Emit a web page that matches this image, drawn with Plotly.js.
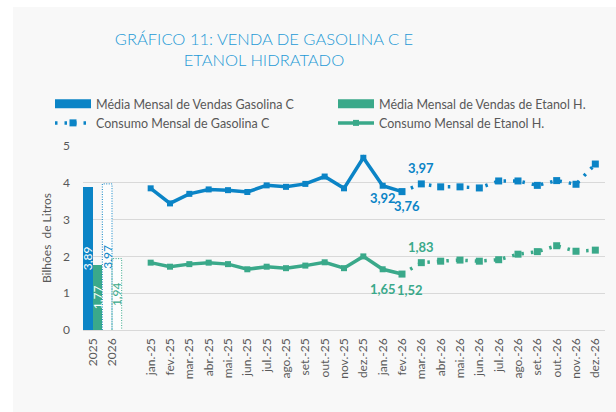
<!DOCTYPE html>
<html>
<head>
<meta charset="utf-8">
<script src="https://cdn.plot.ly/plotly-3.0.1.min.js"></script>
<style>
  html, body { margin: 0; padding: 0; background: #ffffff; width: 616px; height: 412px; overflow: hidden; }
  #chart { position: absolute; left: 13px; top: 7px; width: 603px; height: 405px; }
</style>
</head>
<body>
<div id="chart"></div>
<script>
// ---- data ----
const annualLabels = ['2025', '2026'];
const annualGasolina = [3.89, 3.97];
const annualEtanol = [1.77, 1.94];

const months = ['jan.-25','fev.-25','mar.-25','abr.-25','mai.-25','jun.-25','jul.-25','ago.-25','set.-25','out.-25','nov.-25','dez.-25',
                'jan.-26','fev.-26','mar.-26','abr.-26','mai.-26','jun.-26','jul.-26','ago.-26','set.-26','out.-26','nov.-26','dez.-26'];
const gasolina = [3.85, 3.44, 3.70, 3.82, 3.80, 3.75, 3.93, 3.89, 3.97, 4.17, 3.85, 4.68,
                  3.92, 3.76, 3.97, 3.89, 3.89, 3.86, 4.05, 4.05, 3.93, 4.06, 3.96, 4.51];
const etanol =   [1.83, 1.72, 1.79, 1.83, 1.79, 1.65, 1.72, 1.68, 1.75, 1.84, 1.68, 2.00,
                  1.65, 1.52, 1.83, 1.87, 1.90, 1.87, 1.91, 2.06, 2.13, 2.29, 2.14, 2.17];
const lastRealMonth = 'fev.-26';

// labelled points: [month, shiftX, shiftY]
const gasLabels = [['jan.-26', 0, -12], ['fev.-26', 5, -14], ['mar.-26', 0, 16]];
const etaLabels = [['jan.-26', 0, -20], ['fev.-26', 8, -16], ['mar.-26', 0, 16]];

// ---- styling ----
const BLUE = '#0B84C6';
const GREEN = '#3AA98A';
const GREY = '#595959';
const FONT = 'Lato, "Open Sans", sans-serif';

// positions on a numeric axis: 2 annual categories, a blank slot, then months
const annualX = annualLabels.map((_, i) => i);
const monthX = months.map((_, i) => i + annualLabels.length + 1);
const split = months.indexOf(lastRealMonth);
const fmt = v => v.toFixed(2).replace('.', ',');

const traces = [];

// annual bars (2025 solid, 2026 projected = light fill with dotted outline)
traces.push({
  type: 'bar', x: annualX, y: annualGasolina, name: 'Média Mensal de Vendas Gasolina C',
  marker: { color: [BLUE, 'rgba(255,255,255,0.7)'] },
  text: annualGasolina.map(fmt), textposition: 'inside', insidetextanchor: 'middle', textangle: -90,
  constraintext: 'none',
  textfont: { family: FONT, size: 12, color: ['#ffffff', BLUE] },
  showlegend: false, hoverinfo: 'x+y', cliponaxis: false
});
traces.push({
  type: 'bar', x: annualX, y: annualEtanol, name: 'Média Mensal de Vendas de Etanol H.',
  marker: { color: [GREEN, 'rgba(255,255,255,0.7)'] },
  text: annualEtanol.map(fmt), textposition: 'inside', insidetextanchor: 'middle', textangle: -90,
  constraintext: 'none',
  textfont: { family: FONT, size: 12, color: ['#ffffff', GREEN] },
  showlegend: false, hoverinfo: 'x+y', cliponaxis: false
});

// dotted outlines of the projected (2026) bars, built from the bar values
function outline(xc, v, color) {
  return { type: 'scatter', mode: 'lines', x: [xc - 0.25, xc - 0.25, xc + 0.25, xc + 0.25], y: [0, v, v, 0],
           line: { color: color, width: 1, dash: '1px,1.5px' }, showlegend: false, hoverinfo: 'skip' };
}
traces.push(outline(annualX[1] - 0.25, annualGasolina[1], BLUE));
traces.push(outline(annualX[1] + 0.25, annualEtanol[1], GREEN));

// legend swatches for the bars (wide rectangles)
traces.push({ type: 'scatter', mode: 'lines', x: [null], y: [null], name: 'Média Mensal de Vendas Gasolina C',
  line: { color: BLUE, width: 9 }, legendrank: 1, hoverinfo: 'skip' });
traces.push({ type: 'scatter', mode: 'lines', x: [null], y: [null], name: 'Média Mensal de Vendas de Etanol H.',
  line: { color: GREEN, width: 9 }, legendrank: 2, hoverinfo: 'skip' });

// monthly lines: realised (solid) and projected (dotted)
function series(values, color, name, legendOnDotted, rankBase) {
  traces.push({
    type: 'scatter', mode: 'lines+markers', x: monthX.slice(0, split + 1), y: values.slice(0, split + 1),
    name: name, line: { color: color, width: 3.5 }, marker: { symbol: 'square', size: 6, color: color },
    showlegend: !legendOnDotted, legendrank: rankBase, text: months.slice(0, split + 1), hoverinfo: 'text+y'
  });
  traces.push({
    type: 'scatter', mode: 'lines+markers', x: monthX.slice(split), y: values.slice(split),
    name: name, line: { color: color, width: 3.5, dash: '2.5px,7px' }, marker: { symbol: 'square', size: 7, color: color },
    showlegend: legendOnDotted, legendrank: rankBase, text: months.slice(split), hoverinfo: 'text+y'
  });
}
series(gasolina, BLUE, 'Consumo Mensal de Gasolina C', true, 3);
series(etanol, GREEN, 'Consumo Mensal de Etanol H.', false, 4);

// data labels on the lines
const annotations = [];
function addLabels(list, values, color) {
  list.forEach(([m, dx, dy]) => {
    const i = months.indexOf(m);
    annotations.push({ x: monthX[i], y: values[i], text: fmt(values[i]), showarrow: false,
      xshift: dx, yshift: dy, font: { family: FONT, size: 13, color: color, weight: 'bold' } });
  });
}
addLabels(gasLabels, gasolina, BLUE);
addLabels(etaLabels, etanol, GREEN);

const layout = {
  width: 603, height: 405,
  paper_bgcolor: '#f8f8f8', plot_bgcolor: '#f8f8f8',
  margin: { l: 70, r: 11, t: 139, b: 82 },
  separators: ',.',
  font: { family: FONT, color: GREY },
  title: {
    text: 'GRÁFICO 11: VENDA DE GASOLINA C E<br>ETANOL HIDRATADO',
    font: { family: FONT, size: 16.5, color: '#1E9AD6', weight: 300, lineheight: 1.25 },
    x: 251 / 603, xanchor: 'center', xref: 'container',
    y: 1 - 38 / 405, yanchor: 'top', yref: 'container'
  },
  barmode: 'group', bargap: 0, bargroupgap: 0,
  xaxis: {
    range: [-0.5, monthX[monthX.length - 1] + 0.5],
    tickmode: 'array', tickvals: annualX.concat(monthX), ticktext: annualLabels.concat(months),
    tickangle: -90, tickfont: { family: FONT, size: 12, color: GREY },
    showgrid: false, zeroline: false, showline: false, ticks: '', ticklabelstandoff: 5
  },
  yaxis: {
    range: [0, 5], dtick: 1, tick0: 0,
    tickfont: { family: FONT, size: 12, color: GREY },
    gridcolor: '#d9d9d9', gridwidth: 1, zeroline: true, zerolinecolor: '#d9d9d9', zerolinewidth: 1,
    ticks: '', ticklabelstandoff: 12, showline: false,
    title: { text: 'Bilhões  de Litros', font: { family: FONT, size: 12, color: GREY }, standoff: 8 }
  },
  legend: {
    orientation: 'h', x: -0.015, xanchor: 'left', y: 1 + 57 / 184, yanchor: 'top',
    entrywidth: 232, entrywidthmode: 'pixels', traceorder: 'normal',
    font: { family: FONT, size: 12.5, color: GREY }, bgcolor: 'rgba(0,0,0,0)', itemwidth: 36,
    tracegroupgap: 0
  },
  annotations: annotations,
  showlegend: true
};

Plotly.newPlot('chart', traces, layout, { displayModeBar: false, staticPlot: true });
</script>
</body>
</html>
